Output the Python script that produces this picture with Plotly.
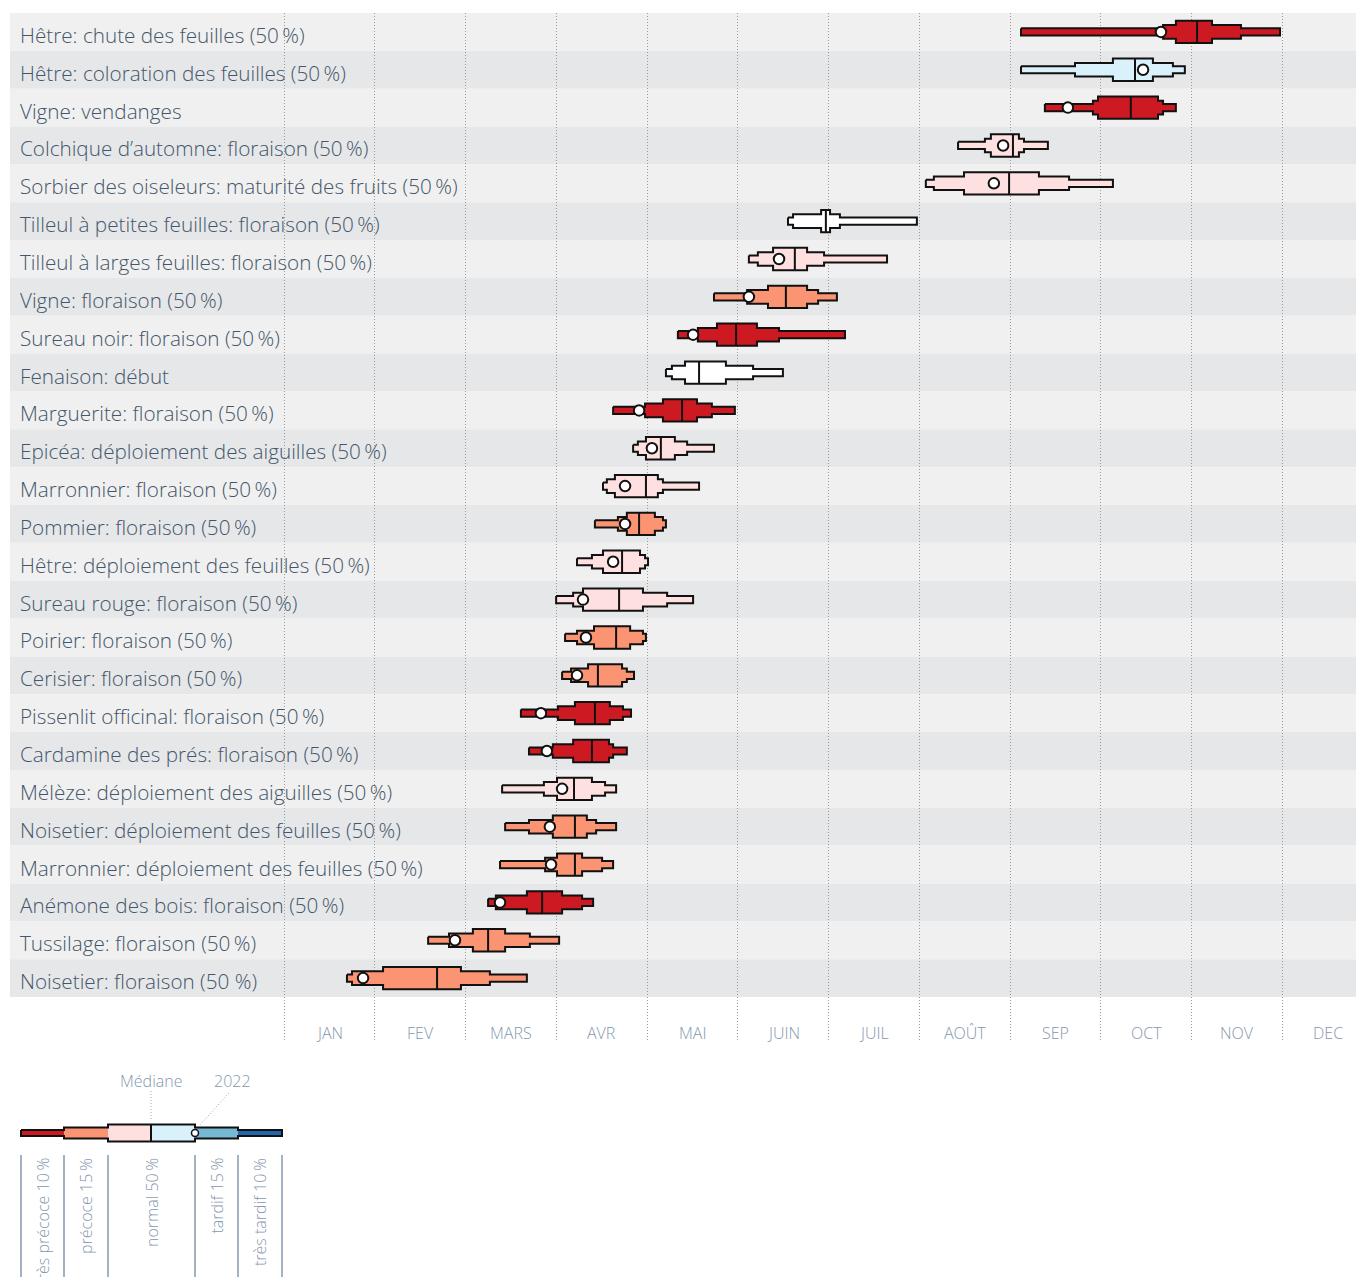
import plotly.graph_objects as go

# ---------------- data (day of year, 0 = 1 Jan) ----------------
labels = [
    "Hêtre: chute des feuilles (50\u2009%)",
    "Hêtre: coloration des feuilles (50\u2009%)",
    "Vigne: vendanges",
    "Colchique d’automne: floraison (50\u2009%)",
    "Sorbier des oiseleurs: maturité des fruits (50\u2009%)",
    "Tilleul à petites feuilles: floraison (50\u2009%)",
    "Tilleul à larges feuilles: floraison (50\u2009%)",
    "Vigne: floraison (50\u2009%)",
    "Sureau noir: floraison (50\u2009%)",
    "Fenaison: début",
    "Marguerite: floraison (50\u2009%)",
    "Epicéa: déploiement des aiguilles (50\u2009%)",
    "Marronnier: floraison (50\u2009%)",
    "Pommier: floraison (50\u2009%)",
    "Hêtre: déploiement des feuilles (50\u2009%)",
    "Sureau rouge: floraison (50\u2009%)",
    "Poirier: floraison (50\u2009%)",
    "Cerisier: floraison (50\u2009%)",
    "Pissenlit officinal: floraison (50\u2009%)",
    "Cardamine des prés: floraison (50\u2009%)",
    "Mélèze: déploiement des aiguilles (50\u2009%)",
    "Noisetier: déploiement des feuilles (50\u2009%)",
    "Marronnier: déploiement des feuilles (50\u2009%)",
    "Anémone des bois: floraison (50\u2009%)",
    "Tussilage: floraison (50\u2009%)",
    "Noisetier: floraison (50 %)",
]
q_min = [247.0, 247.0, 255.0, 225.9, 215.1, 168.9, 155.8, 144.1, 132.0, 128.0, 110.3, 117.0, 106.9,
         104.2, 98.2, 91.2, 94.2, 93.2, 79.4, 82.1, 73.1, 74.1, 72.4, 68.4, 48.3, 21.1]
q10 = [294.6, 265.1, 271.1, 234.9, 217.8, 170.6, 158.8, 155.2, 138.7, 130.0, 121.0, 118.6, 108.2,
       111.9, 103.2, 96.9, 98.2, 96.2, 91.8, 90.1, 87.1, 82.1, 87.5, 71.0, 55.3, 22.8]
q25 = [298.9, 277.8, 272.8, 236.9, 227.9, 180.0, 163.9, 162.2, 145.1, 134.4, 127.0, 121.3, 110.9,
       114.9, 106.9, 100.2, 103.9, 101.9, 97.5, 96.9, 91.5, 90.1, 91.5, 81.4, 63.3, 33.2]
q50 = [306.0, 285.2, 283.8, 244.3, 243.0, 181.6, 171.2, 168.2, 151.5, 139.1, 133.4, 126.3, 121.3,
       119.0, 113.3, 112.3, 111.3, 105.2, 104.2, 103.2, 97.2, 97.5, 97.5, 86.5, 68.4, 51.3]
q75 = [311.0, 291.2, 292.9, 246.3, 253.0, 183.0, 175.3, 175.3, 158.5, 148.1, 138.4, 131.0, 125.3,
       124.3, 119.3, 120.3, 116.0, 113.3, 109.2, 108.9, 103.2, 101.5, 99.9, 93.2, 74.1, 59.3]
q90 = [320.7, 297.9, 294.6, 248.0, 263.1, 186.3, 181.0, 179.0, 165.9, 157.2, 143.4, 135.1, 127.0,
       127.0, 121.0, 128.4, 120.3, 114.9, 113.6, 110.3, 107.6, 104.6, 106.6, 99.9, 82.4, 69.0]
q_max = [333.8, 301.9, 298.9, 256.0, 277.8, 212.1, 202.1, 185.3, 188.0, 167.2, 151.1, 144.1, 139.1,
         128.0, 122.0, 137.1, 121.3, 117.3, 116.3, 114.9, 111.3, 111.3, 110.3, 103.6, 92.2, 81.4]
y2022 = [293.9, 287.9, 262.7, 241.0, 237.9, None, 165.9, 155.8, 137.1, None, 119.0, 123.3, 114.3,
         114.3, 110.3, 100.2, 101.2, 98.2, 86.1, 88.1, 93.2, 89.1, 89.5, 72.4, 57.3, 26.5]
category = ["tp", "tl", "tp", "nl", "nl", "none", "nl", "p", "tp", "none", "tp", "nl", "nl",
            "p", "nl", "nl", "p", "p", "tp", "tp", "nl", "p", "p", "tp", "p", "p"]

months = ["JAN", "FEV", "MARS", "AVR", "MAI", "JUIN", "JUIL", "AOÛT", "SEP", "OCT", "NOV", "DEC"]

legend_names = ["très précoce 10\u2009%", "précoce 15\u2009%", "normal 50\u2009%",
                "tardif 15\u2009%", "très tardif 10\u2009%"]

# ---------------- styles ----------------
colors = {"tp": "#cd1921", "p": "#fb9472", "nl": "#fde0df", "tl": "#d9f1fb",
          "t": "#74b8d3", "tt": "#2166ac", "none": "#ffffff"}
TEXT = "#44566a"
LIGHT = "#8497ae"
FONT = "Open Sans"
H_THIN, H_MED, H_THICK = 0.095, 0.18, 0.295
MONTH = 365 / 12
PX_DAY = 90.76 / MONTH
X0 = -274 / PX_DAY
X1 = X0 + 1354 / PX_DAY
n = len(labels)
Y_BOTTOM = n - 0.5 + 43 / 37.85

fig = go.Figure()

# background bands
shapes = []
for i in range(n):
    shapes.append(dict(type="rect", xref="paper", yref="y", x0=0, x1=1, y0=i - 0.5, y1=i + 0.5,
                       fillcolor="#f0f0f0" if i % 2 == 0 else "#e6e7e9", line_width=0, layer="below"))


def outline(a, b, c, m, d, e, f, yc, h1, h2, h3):
    xs = [a, b, b, c, c, d, d, e, e, f, f, e, e, d, d, c, c, b, b, a, a]
    ys = [yc - h1, yc - h1, yc - h2, yc - h2, yc - h3, yc - h3, yc - h2, yc - h2, yc - h1, yc - h1,
          yc + h1, yc + h1, yc + h2, yc + h2, yc + h3, yc + h3, yc + h2, yc + h2, yc + h1, yc + h1, yc - h1]
    return xs, ys


for i in range(n):
    xs, ys = outline(q_min[i], q10[i], q25[i], q50[i], q75[i], q90[i], q_max[i], i,
                     H_THIN, H_MED, H_THICK)
    fig.add_trace(go.Scatter(x=xs, y=ys, mode="lines", fill="toself",
                             fillcolor=colors[category[i]],
                             line=dict(color="#111111", width=2), hoverinfo="skip",
                             showlegend=False))

# medians
mx, my = [], []
for i in range(n):
    mx += [q50[i], q50[i], None]
    my += [i - H_THICK, i + H_THICK, None]
fig.add_trace(go.Scatter(x=mx, y=my, mode="lines", line=dict(color="#111111", width=2),
                         hoverinfo="skip", showlegend=False))

# 2022 values
px_, py_ = [], []
for i in range(n):
    if y2022[i] is not None:
        px_.append(y2022[i])
        py_.append(i)
fig.add_trace(go.Scatter(x=px_, y=py_, mode="markers",
                         marker=dict(size=10.5, color="white", line=dict(color="#111111", width=2)),
                         hoverinfo="skip", showlegend=False))

annotations = []
for i, lab in enumerate(labels):
    annotations.append(dict(xref="paper", yref="y", x=0, y=i, xshift=8, yshift=-3,
                            text=lab, showarrow=False, xanchor="left", yanchor="middle",
                            font=dict(family=FONT, size=20.7, weight=300, color=TEXT)))
for k, mname in enumerate(months):
    annotations.append(dict(xref="x", yref="y", x=(k + 0.5) * MONTH, y=n - 0.5 + 36 / 37.85,
                            text=mname, showarrow=False, xanchor="center", yanchor="middle",
                            font=dict(family=FONT, size=16, weight=300, color=LIGHT)))

# ---------------- legend key (page-pixel coordinates on x2/y2) ----------------
lg_edges = [21, 64, 108, 151, 195, 238, 282]
lg_cols = ["tp", "p", "nl", "tl", "t", "tt"]
lg_half = [3, 5.5, 8.5, 8.5, 5.5, 3]
LY = 1133
for j in range(6):
    fig.add_trace(go.Scatter(
        x=[lg_edges[j], lg_edges[j + 1], lg_edges[j + 1], lg_edges[j], lg_edges[j]],
        y=[LY - lg_half[j], LY - lg_half[j], LY + lg_half[j], LY + lg_half[j], LY - lg_half[j]],
        mode="lines", fill="toself", fillcolor=colors[lg_cols[j]], line=dict(width=0),
        xaxis="x2", yaxis="y2", hoverinfo="skip", showlegend=False))
ox, oy = outline(lg_edges[0], lg_edges[1], lg_edges[2], lg_edges[3], lg_edges[4], lg_edges[5],
                 lg_edges[6], LY, 3, 5.5, 8.5)
fig.add_trace(go.Scatter(x=ox, y=oy, mode="lines", line=dict(color="#111111", width=2),
                         xaxis="x2", yaxis="y2", hoverinfo="skip", showlegend=False))
fig.add_trace(go.Scatter(x=[lg_edges[3], lg_edges[3]], y=[LY - 8.5, LY + 8.5], mode="lines",
                         line=dict(color="#111111", width=2), xaxis="x2", yaxis="y2",
                         hoverinfo="skip", showlegend=False))
fig.add_trace(go.Scatter(x=[lg_edges[4]], y=[LY], mode="markers",
                         marker=dict(size=7, color="white", line=dict(color="#111111", width=1.5)),
                         xaxis="x2", yaxis="y2", hoverinfo="skip", showlegend=False))
# leader lines
fig.add_trace(go.Scatter(x=[151, 151, None, 229, 199], y=[1091, 1121, None, 1093, 1126],
                         mode="lines", line=dict(color="#9aa8b8", width=1, dash="1px,2px"),
                         xaxis="x2", yaxis="y2", hoverinfo="skip", showlegend=False))
# separators
sx, sy = [], []
for e in [21, 64, 108, 195, 238, 282]:
    sx += [e, e, None]
    sy += [1155, 1285, None]
fig.add_trace(go.Scatter(x=sx, y=sy, mode="lines", line=dict(color="#8497ae", width=1.5),
                         xaxis="x2", yaxis="y2", hoverinfo="skip", showlegend=False))

annotations.append(dict(xref="x2", yref="y2", x=151, y=1081, text="Médiane", showarrow=False,
                        xanchor="center", yanchor="middle",
                        font=dict(family=FONT, size=16, weight=300, color=LIGHT)))
annotations.append(dict(xref="x2", yref="y2", x=232, y=1081, text="2022", showarrow=False,
                        xanchor="center", yanchor="middle",
                        font=dict(family=FONT, size=16, weight=300, color=LIGHT)))
lab_x = [42.5, 86, 151.5, 216.5, 260]
for t, xx in zip(legend_names, lab_x):
    annotations.append(dict(xref="x2", yref="y2", x=xx, y=1156, text=t, showarrow=False,
                            textangle=-90, xanchor="center", yanchor="top",
                            font=dict(family=FONT, size=16, weight=300, color=LIGHT)))

# the page body adds an 8 px offset: figure spans page px 8..1364 x 8..1277
FIG_W, FIG_H = 1356, 1269
TOP = 5
main_bottom = (FIG_H - (1040 - 8)) / (FIG_H - TOP)
fig.update_layout(
    width=FIG_W, height=FIG_H,
    margin=dict(l=2, r=0, t=TOP, b=0, pad=0),
    paper_bgcolor="white", plot_bgcolor="white",
    shapes=shapes, annotations=annotations,
    xaxis=dict(domain=[0, 1], range=[X0, X1], tickvals=[k * MONTH for k in range(12)],
               showticklabels=False, ticks="", showgrid=True, gridcolor="#9a9a9a",
               griddash="1px,2px", gridwidth=1, zeroline=False, showline=False, fixedrange=True),
    yaxis=dict(domain=[main_bottom, 1], range=[Y_BOTTOM, -0.5], showticklabels=False,
               showgrid=False, zeroline=False, showline=False, ticks=""),
    xaxis2=dict(domain=[0, 1], range=[10, 1364], anchor="y2", visible=False),
    yaxis2=dict(domain=[0, main_bottom], range=[1277, 1040], anchor="x2", visible=False),
)

fig.write_html("out.html")
